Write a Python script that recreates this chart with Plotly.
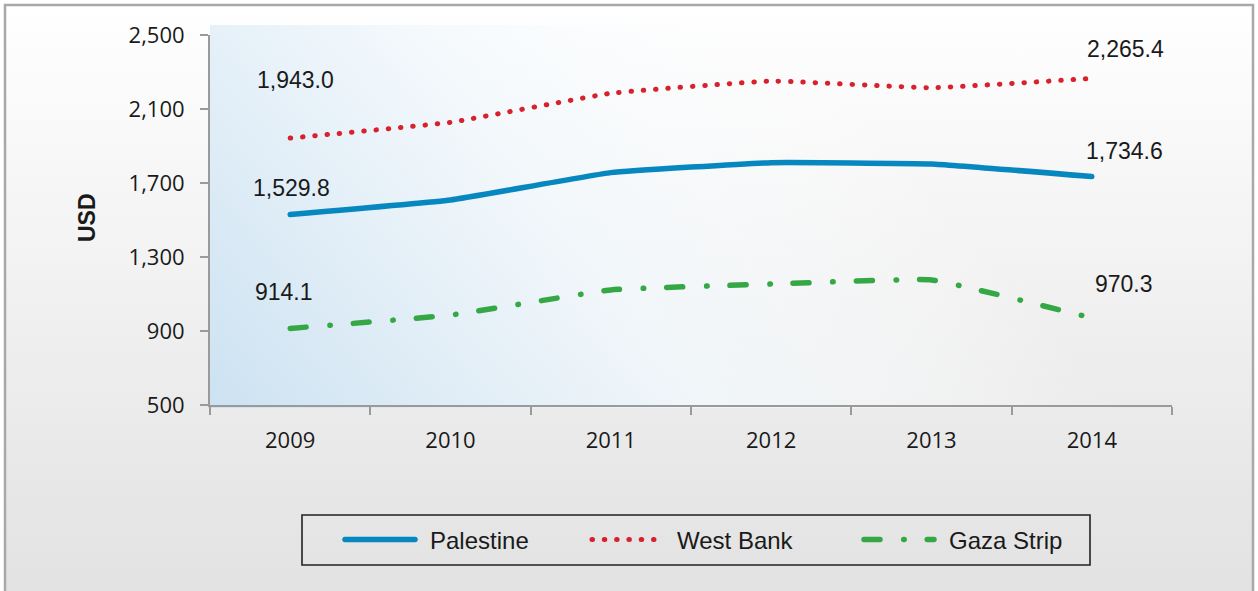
import base64
import plotly.graph_objects as go

# ---------------- data ----------------
years = ["2009", "2010", "2011", "2012", "2013", "2014"]
palestine = [1529.8, 1608, 1756, 1810, 1803, 1734.6]
west_bank = [1943.0, 2028, 2185, 2251, 2215, 2265.4]
gaza_strip = [914.1, 986, 1122, 1154, 1176, 970.3]
y_ticks = [500, 900, 1300, 1700, 2100, 2500]
series_names = ["Palestine", "West Bank", "Gaza Strip"]

W, H = 1258, 591
L, R, T, B = 210, 86, 35, 186
PW, PH = W - L - R, H - T - B

colors = {"Palestine": "#0787bf", "West Bank": "#d7222d", "Gaza Strip": "#35a845"}
dashes = {"Palestine": "solid", "West Bank": "0.5px,11.8px", "Gaza Strip": "16px,23.7px,0.5px,23px"}
widths = {"Palestine": 5.5, "West Bank": 5, "Gaza Strip": 5.5}
legend_ids = {"Palestine": "legend", "West Bank": "legend2", "Gaza Strip": "legend3"}
legend_left_px = {"Palestine": 340, "West Bank": 587, "Gaza Strip": 859}

fig = go.Figure()
for name, vals in zip(series_names, [palestine, west_bank, gaza_strip]):
    fig.add_trace(go.Scatter(
        x=years, y=vals, name=name, mode="lines",
        line=dict(color=colors[name], width=widths[name], dash=dashes[name],
                  shape="spline", smoothing=0.3),
        hoverinfo="skip", legend=legend_ids[name],
    ))

# data labels (first and last point of each series)
label_offsets = {
    "Palestine": [(1, 26), (33, 26)],
    "West Bank": [(5, 58), (34, 29)],
    "Gaza Strip": [(-6, 36), (32, 34)],
}
for name, vals in zip(series_names, [palestine, west_bank, gaza_strip]):
    for idx, (dx, dy) in zip([0, len(vals) - 1], label_offsets[name]):
        fig.add_annotation(
            xref="x", yref="y", x=idx, y=vals[idx], text=f"{vals[idx]:,.1f}",
            showarrow=False, xshift=dx, yshift=dy,
            font=dict(family="Liberation Sans, Arial", size=23, color="#1a1a1a"),
        )

# axis title
fig.add_annotation(
    xref="paper", yref="paper", x=(87 - L) / PW, y=(T + PH - 218) / PH,
    xanchor="center", yanchor="middle",
    text="<b>USD</b>", textangle=-90, showarrow=False,
    font=dict(family="Liberation Sans, Arial", size=23, color="#1a1a1a"),
)

# legend frame
fig.add_shape(
    type="rect", xref="paper", yref="paper",
    x0=(302 - L) / PW, x1=(1090 - L) / PW,
    y0=(T + PH - 565) / PH, y1=(T + PH - 515) / PH,
    line=dict(color="#222222", width=1.6), fillcolor="rgba(0,0,0,0)",
)

# background gradients (decoration)
paper_svg = (
    f'<svg xmlns="http://www.w3.org/2000/svg" width="{W}" height="{H}" viewBox="0 0 {W} {H}" preserveAspectRatio="none">'
    '<defs><linearGradient id="g" x1="0" y1="0" x2="0" y2="1">'
    '<stop offset="0" stop-color="#ffffff"/><stop offset="1" stop-color="#e2e2e2"/>'
    '</linearGradient></defs>'
    f'<rect x="0" y="0" width="{W}" height="{H}" fill="#ffffff"/>'
    f'<rect x="5" y="5" width="{W-10}" height="{H}" fill="url(#g)" stroke="#a8a8a8" stroke-width="2.5"/>'
    '</svg>'
)
plot_svg = (
    '<svg xmlns="http://www.w3.org/2000/svg" width="990" height="383" viewBox="0 0 990 383" preserveAspectRatio="none">'
    '<defs><linearGradient id="b" gradientUnits="userSpaceOnUse" x1="0" y1="383" x2="560" y2="-60">'
    '<stop offset="0" stop-color="#cce2f2" stop-opacity="1"/>'
    '<stop offset="0.55" stop-color="#f2f8fc" stop-opacity="0.85"/>'
    '<stop offset="1" stop-color="#ffffff" stop-opacity="0"/>'
    '</linearGradient></defs>'
    '<rect x="0" y="0" width="990" height="383" fill="url(#b)"/>'
    '</svg>'
)

def uri(svg):
    return "data:image/svg+xml;base64," + base64.b64encode(svg.encode()).decode()

fig.add_layout_image(dict(
    source=uri(paper_svg), xref="paper", yref="paper",
    x=-L / PW, y=1 + T / PH, sizex=W / PW, sizey=H / PH,
    sizing="stretch", layer="below", xanchor="left", yanchor="top",
))
fig.add_layout_image(dict(
    source=uri(plot_svg), xref="paper", yref="paper",
    x=0, y=1 + 10 / PH, sizex=990 / PW, sizey=383 / PH,
    sizing="stretch", layer="below", xanchor="left", yanchor="top",
))

legend_common = dict(
    orientation="h", xref="container", yref="container",
    xanchor="left", y=1 - 540 / H, yanchor="middle",
    borderwidth=0, bgcolor="rgba(0,0,0,0)",
    font=dict(family="Liberation Sans, Arial", size=24, color="#1a1a1a"),
    itemwidth=70,
)

axis_font = dict(family="Open Sans", size=22, color="#1a1a1a")
fig.update_layout(
    width=W, height=H,
    margin=dict(l=L, r=R, t=T, b=B, pad=0),
    paper_bgcolor="rgba(0,0,0,0)", plot_bgcolor="rgba(0,0,0,0)",
    showlegend=True,
    legend=dict(x=legend_left_px["Palestine"] / W, **legend_common),
    legend2=dict(x=legend_left_px["West Bank"] / W, **legend_common),
    legend3=dict(x=legend_left_px["Gaza Strip"] / W, **legend_common),
    xaxis=dict(
        type="category", range=[-0.5, 5.5], showgrid=False, zeroline=False,
        showline=True, linecolor="#9a9a9a", linewidth=2,
        ticks="outside", ticklen=8, tickcolor="#9a9a9a", tickwidth=2,
        tickson="boundaries", tickfont=axis_font, ticklabelstandoff=15,
    ),
    yaxis=dict(
        range=[500, 2500], tickvals=y_ticks, tickformat=",d",
        showgrid=False, zeroline=False,
        showline=True, linecolor="#9a9a9a", linewidth=2,
        ticks="outside", ticklen=8, tickcolor="#9a9a9a", tickwidth=2,
        tickfont=axis_font, ticklabelstandoff=11,
    ),
)

post = """
document.body.style.margin = '0';
document.body.style.padding = '0';
var gd = document.getElementById('{plot_id}');
var legSel = 'text.legendtext, text.legend2text, text.legend3text';
function rc(){
  gd.querySelectorAll('path.js-line').forEach(function(p){ p.style.strokeLinecap='round'; });
  gd.querySelectorAll('[clip-path]').forEach(function(s){
    if (s.querySelector && s.querySelector(legSel)) { s.removeAttribute('clip-path'); }
  });
  gd.querySelectorAll(legSel).forEach(function(t){
    t.setAttribute('transform', 'translate(10,0)');
  });
}
rc();
setTimeout(rc, 30);
setInterval(rc, 100);
if (gd && gd.on) { gd.on('plotly_afterplot', rc); }
"""
fig.write_html("out.html", post_script=post, config={"displayModeBar": False})
